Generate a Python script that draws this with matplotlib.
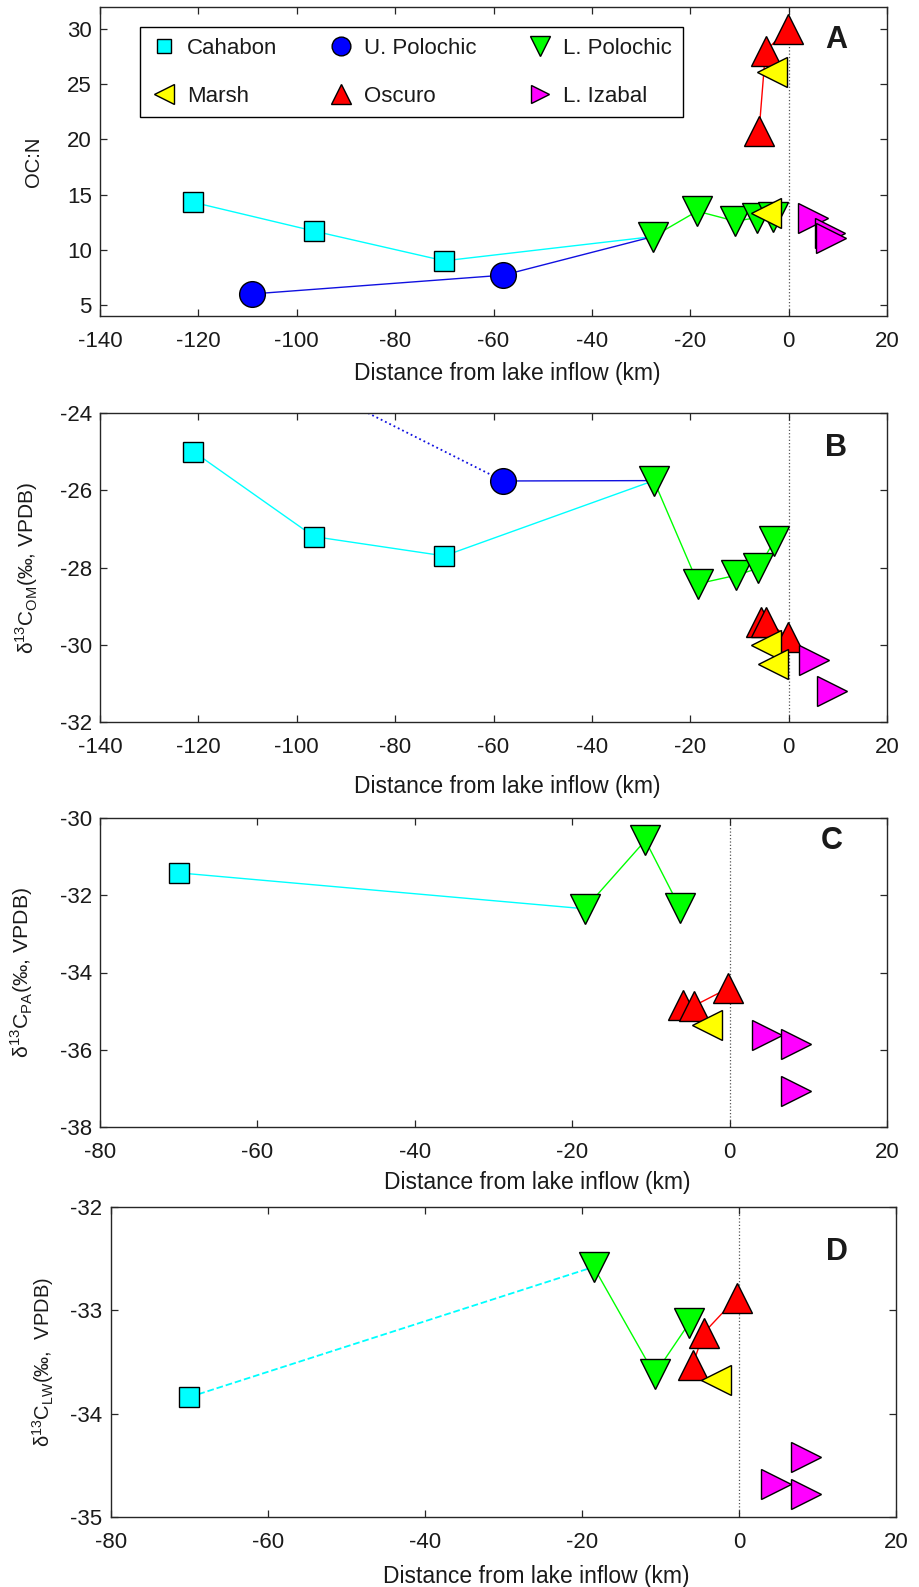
import matplotlib
matplotlib.use("Agg")
import matplotlib.pyplot as plt
from matplotlib.lines import Line2D

plt.rcParams['font.family'] = ['Liberation Sans', 'DejaVu Sans']
plt.rcParams['mathtext.fontset'] = 'custom'
plt.rcParams['mathtext.rm'] = 'Liberation Sans'
plt.rcParams['axes.unicode_minus'] = False

# ---------------- data ----------------
# Panel A: OC:N
cah_A_x = [-121, -96.5, -70];            cah_A_y = [14.3, 11.7, 9.0]
upo_A_x = [-109, -58];                   upo_A_y = [6.0, 7.7]
lpo_A_x = [-27.5, -18.6, -10.9, -6.5, -3.1]; lpo_A_y = [11.2, 13.5, 12.6, 12.9, 13.0]
osc_A_x = [-6.0, -4.7, -0.2];            osc_A_y = [20.8, 28.0, 30.0]
mar_A_x = [-3.3, -4.7];                  mar_A_y = [26.1, 13.3]
izb_A_x = [5.0, 8.4, 8.7];               izb_A_y = [12.9, 11.5, 11.1]

# Panel B: d13C OM
cah_B_x = [-121, -96.5, -70];            cah_B_y = [-25.0, -27.2, -27.7]
upo_B_x = [-109, -58];                   upo_B_y = [-22.5, -25.76]
lpo_B_x = [-27.4, -18.4, -10.6, -6.2, -2.9]; lpo_B_y = [-25.75, -28.42, -28.2, -28.02, -27.31]
osc_B_x = [-5.7, -4.5, -0.1];            osc_B_y = [-29.4, -29.4, -29.8]
mar_B_x = [-4.5, -3.1];                  mar_B_y = [-30.0, -30.5]
izb_B_x = [5.1, 8.9];                    izb_B_y = [-30.4, -31.2]

# Panel C: d13C PA
cah_C_x = [-70];                         cah_C_y = [-31.42]
lpo_C_x = [-18.4, -10.7, -6.3];          lpo_C_y = [-32.35, -30.58, -32.33]
osc_C_x = [-5.9, -4.5, -0.2];            osc_C_y = [-34.84, -34.86, -34.41]
mar_C_x = [-2.9];                        mar_C_y = [-35.37]
izb_C_x = [4.8, 8.5, 8.5];               izb_C_y = [-35.61, -35.85, -37.08]

# Panel D: d13C LW
cah_D_x = [-70];                         cah_D_y = [-33.84]
lpo_D_x = [-18.5, -10.75, -6.3];         lpo_D_y = [-32.58, -33.62, -33.12]
osc_D_x = [-5.9, -4.5, -0.3];            osc_D_y = [-33.53, -33.22, -32.88]
mar_D_x = [-2.9];                        mar_D_y = [-33.67]
izb_D_x = [8.5, 4.75, 8.5];              izb_D_y = [-34.42, -34.68, -34.78]

series_names = ['Cahabon', 'U. Polochic', 'L. Polochic', 'Marsh', 'Oscuro', 'L. Izabal']

# ---------------- style ----------------
CY, BL, GR, YE, RE, MA = '#00FFFF', '#0000FF', '#00FF00', '#FFFF00', '#FF0000', '#FF00FF'
AXC = '#262626'
TXT = '#1a1a1a'
sty = {
    'cah': dict(marker='s', ms=15, mfc=CY, color=CY),
    'upo': dict(marker='o', ms=18.5, mfc=BL, color='#1010E0'),
    'lpo': dict(marker='v', ms=21, mfc=GR, color=GR),
    'mar': dict(marker='<', ms=21, mfc=YE, color=YE),
    'osc': dict(marker='^', ms=21, mfc=RE, color=RE),
    'izb': dict(marker='>', ms=21, mfc=MA, color=MA),
}
leg_ms = {'cah': 10.5, 'upo': 13.5, 'lpo': 15, 'mar': 14.5, 'osc': 15, 'izb': 13.5}

fig = plt.figure(figsize=(9.19, 15.87), dpi=100)
W, H = 919, 1587

def make_ax(l, r, t, b):
    return fig.add_axes([l / W, 1 - b / H, (r - l) / W, (b - t) / H])

axA = make_ax(100, 887, 7, 316)
axB = make_ax(100, 887, 413, 722)
axC = make_ax(100, 887, 818, 1127)
axD = make_ax(110.7, 896, 1207, 1517)

def markers(ax, key, x, y, z):
    s = sty[key]
    ax.plot(x, y, ls='none', marker=s['marker'], ms=s['ms'], mfc=s['mfc'],
            mec='k', mew=1.0, zorder=z, clip_on=True)

def line(ax, key, x, y, ls='-', lw=1.0):
    ax.plot(x, y, ls=ls, lw=lw, color=sty[key]['color'], zorder=2)

def style_ax(ax, xlim, xticks, ylim, yticks, ylabel, ylsize, letter, letpos, ylab_x, xlab_pos):
    ax.set_xlim(*xlim); ax.set_ylim(*ylim)
    ax.set_xticks(xticks); ax.set_yticks(yticks)
    ax.tick_params(direction='in', top=True, right=True, length=5, width=0.9,
                   colors=AXC, labelsize=16, labelcolor=TXT)
    ax.tick_params(axis='x', pad=11)
    ax.tick_params(axis='y', pad=6)
    for sp in ax.spines.values():
        sp.set_color(AXC); sp.set_linewidth(1.0)
    ax.axvline(0, color='#555555', lw=0.9, ls=':', zorder=1)
    ax.set_ylabel(ylabel, fontsize=ylsize, color=TXT)
    ax.yaxis.set_label_coords(ylab_x, 0.5)
    ax.set_xlabel('Distance from lake inflow (km)', fontsize=16.5, color=TXT)
    ax.xaxis.set_label_coords(*xlab_pos)
    ax.text(letpos[0], letpos[1], letter, transform=ax.transAxes, fontsize=22,
            fontweight='bold', ha='center', va='center', color=TXT)

# ---- Panel A ----
line(axA, 'cah', cah_A_x + lpo_A_x[:1], cah_A_y + lpo_A_y[:1])
line(axA, 'upo', upo_A_x + lpo_A_x[:1], upo_A_y + lpo_A_y[:1])
line(axA, 'lpo', lpo_A_x, lpo_A_y)
line(axA, 'osc', osc_A_x, osc_A_y)
markers(axA, 'cah', cah_A_x, cah_A_y, 3)
markers(axA, 'upo', upo_A_x, upo_A_y, 3)
markers(axA, 'lpo', lpo_A_x, lpo_A_y, 4)
markers(axA, 'osc', osc_A_x, osc_A_y, 5)
markers(axA, 'mar', mar_A_x, mar_A_y, 6)
markers(axA, 'izb', izb_A_x, izb_A_y, 7)
style_ax(axA, (-140, 20), range(-140, 21, 20), (4, 32), range(5, 31, 5), 'OC:N', 14.5, 'A',
         (0.935, 0.892), -0.0725, (0.518, -0.150))

handles = []
for key, name in zip(['cah', 'upo', 'lpo', 'mar', 'osc', 'izb'], series_names):
    s = sty[key]
    handles.append(Line2D([], [], ls='none', marker=s['marker'], ms=leg_ms[key],
                          mfc=s['mfc'], mec='k', mew=1.0, label=name))
order = [0, 3, 1, 4, 2, 5]
leg = axA.legend([handles[i] for i in order], [series_names[i] for i in order],
                 ncol=3, loc='upper left', bbox_to_anchor=(0.0504, 0.934),
                 borderaxespad=0, fontsize=16, fancybox=False,
                 edgecolor='k', framealpha=1, labelspacing=1.2, borderpad=0.48,
                 handletextpad=0.45, columnspacing=2.25, handlelength=1.2)
leg.get_frame().set_linewidth(1.0)
leg.set_zorder(10)
for t in leg.get_texts():
    t.set_color(TXT)

# ---- Panel B ----
line(axB, 'cah', cah_B_x + lpo_B_x[:1], cah_B_y + lpo_B_y[:1])
line(axB, 'upo', upo_B_x, upo_B_y, ls=':', lw=1.3)
line(axB, 'upo', upo_B_x[-1:] + lpo_B_x[:1], upo_B_y[-1:] + lpo_B_y[:1])
line(axB, 'lpo', lpo_B_x, lpo_B_y)
line(axB, 'osc', osc_B_x, osc_B_y)
markers(axB, 'cah', cah_B_x, cah_B_y, 3)
markers(axB, 'upo', upo_B_x, upo_B_y, 3)
markers(axB, 'lpo', lpo_B_x, lpo_B_y, 4)
markers(axB, 'osc', osc_B_x, osc_B_y, 5)
markers(axB, 'mar', mar_B_x, mar_B_y, 6)
markers(axB, 'izb', izb_B_x, izb_B_y, 7)
style_ax(axB, (-140, 20), range(-140, 21, 20), (-32, -24), range(-32, -23, 2),
         r'δ$^{\mathregular{13}}$C$_{\mathregular{OM}}$(‰, VPDB)', 15, 'B',
         (0.935, 0.887), -0.076, (0.518, -0.172))

# ---- Panel C ----
line(axC, 'cah', cah_C_x + lpo_C_x[:1], cah_C_y + lpo_C_y[:1])
line(axC, 'lpo', lpo_C_x, lpo_C_y)
line(axC, 'osc', osc_C_x, osc_C_y)
markers(axC, 'cah', cah_C_x, cah_C_y, 3)
markers(axC, 'lpo', lpo_C_x, lpo_C_y, 4)
markers(axC, 'osc', osc_C_x, osc_C_y, 5)
markers(axC, 'mar', mar_C_x, mar_C_y, 6)
markers(axC, 'izb', izb_C_x, izb_C_y, 7)
style_ax(axC, (-80, 20), range(-80, 21, 20), (-38, -30), range(-38, -29, 2),
         r'δ$^{\mathregular{13}}$C$_{\mathregular{PA}}$(‰, VPDB)', 15.3, 'C',
         (0.930, 0.926), -0.0826, (0.555, -0.143))

# ---- Panel D ----
line(axD, 'cah', cah_D_x + lpo_D_x[:1], cah_D_y + lpo_D_y[:1], ls='--', lw=1.3)
line(axD, 'lpo', lpo_D_x, lpo_D_y)
line(axD, 'osc', osc_D_x, osc_D_y)
markers(axD, 'cah', cah_D_x, cah_D_y, 3)
markers(axD, 'lpo', lpo_D_x, lpo_D_y, 4)
markers(axD, 'osc', osc_D_x, osc_D_y, 5)
markers(axD, 'mar', mar_D_x, mar_D_y, 6)
markers(axD, 'izb', izb_D_x, izb_D_y, 7)
style_ax(axD, (-80, 20), range(-80, 21, 20), (-35, -32), range(-35, -31, 1),
         r'δ$^{\mathregular{13}}$C$_{\mathregular{LW}}$(‰,  VPDB)', 14.5, 'D',
         (0.925, 0.855), -0.070, (0.542, -0.155))

fig.savefig('out.png', dpi=100)
